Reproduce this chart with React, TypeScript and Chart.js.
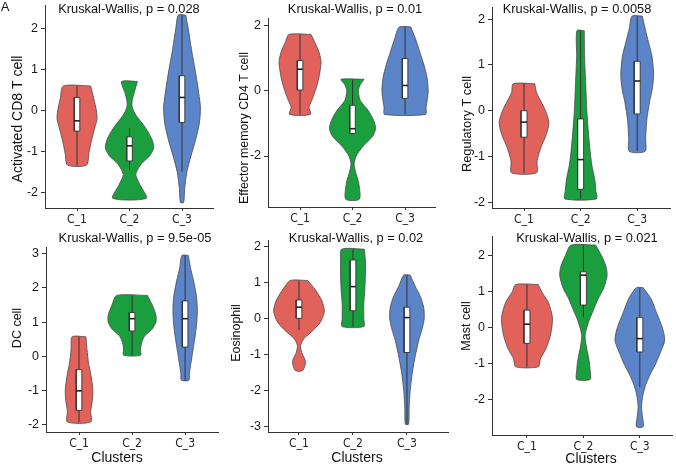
import React, { useEffect, useRef } from "react";
import { Chart, registerables } from "chart.js";

Chart.register(...registerables);

// ---------------- data ----------------
const categories = ["C_1", "C_2", "C_3"];
const clusterColors = ["#E0625A", "#1B9E3E", "#5B85C8"];
const xAxisTitle = "Clusters";

const panelTitles = [
  "Kruskal-Wallis, p = 0.028",
  "Kruskal-Wallis, p = 0.01",
  "Kruskal-Wallis, p = 0.0058",
  "Kruskal-Wallis, p = 9.5e-05",
  "Kruskal-Wallis, p = 0.02",
  "Kruskal-Wallis, p = 0.021",
];
const panelYLabels = [
  "Activated CD8 T cell",
  "Effector memory CD4 T cell",
  "Regulatory T cell",
  "DC cell",
  "Eosinophil",
  "Mast cell",
];
const panelYTicks = [
  [-2, -1, 0, 1, 2],
  [-2, 0, 2],
  [-2, -1, 0, 1, 2],
  [-2, -1, 0, 1, 2, 3],
  [-3, -2, -1, 0, 1, 2],
  [-2, -1, 0, 1, 2],
];

// violin profiles per cluster: [value, half width (category units)], top to bottom
const cd8Violins = [
  [[0.61, 0.26], [0.3, 0.32], [0.0, 0.37], [-0.2, 0.38], [-0.4, 0.34], [-0.7, 0.28], [-1.0, 0.23], [-1.32, 0.18]],
  [[0.72, 0.15], [0.45, 0.09], [0.25, 0.05], [0.1, 0.05], [-0.1, 0.12], [-0.4, 0.3], [-0.7, 0.43], [-0.9, 0.46], [-1.1, 0.38], [-1.3, 0.22], [-1.55, 0.12], [-1.8, 0.2], [-2.13, 0.32]],
  [[2.34, 0.07], [2.0, 0.12], [1.5, 0.18], [1.0, 0.25], [0.6, 0.3], [0.1, 0.35], [-0.3, 0.33], [-0.7, 0.26], [-1.1, 0.17], [-1.5, 0.09], [-1.9, 0.05], [-2.23, 0.03]],
];
const cd4Violins = [
  [[1.74, 0.21], [1.5, 0.28], [1.2, 0.36], [0.9, 0.4], [0.5, 0.37], [0.1, 0.31], [-0.3, 0.22], [-0.5, 0.17], [-0.72, 0.2]],
  [[0.36, 0.22], [0.2, 0.15], [0.0, 0.11], [-0.3, 0.15], [-0.6, 0.3], [-0.9, 0.4], [-1.15, 0.44], [-1.4, 0.38], [-1.7, 0.2], [-2.0, 0.07], [-2.25, 0.03], [-2.5, 0.06], [-2.85, 0.12], [-3.33, 0.13]],
  [[1.97, 0.11], [1.6, 0.2], [1.2, 0.28], [0.8, 0.36], [0.4, 0.42], [0.0, 0.44], [-0.3, 0.42], [-0.5, 0.4], [-0.72, 0.39]],
];
const tregViolins = [
  [[0.59, 0.19], [0.4, 0.22], [0.2, 0.3], [0.0, 0.38], [-0.25, 0.44], [-0.5, 0.4], [-0.8, 0.3], [-1.1, 0.23], [-1.36, 0.22]],
  [[1.75, 0.065], [1.2, 0.07], [0.6, 0.09], [0.0, 0.11], [-0.5, 0.14], [-0.9, 0.17], [-1.2, 0.2], [-1.5, 0.25], [-1.75, 0.27], [-1.93, 0.28]],
  [[2.07, 0.09], [1.8, 0.14], [1.5, 0.2], [1.2, 0.26], [0.8, 0.29], [0.5, 0.27], [0.2, 0.22], [-0.2, 0.17], [-0.6, 0.15], [-0.89, 0.14]],
];
const dcViolins = [
  [[0.57, 0.13], [0.2, 0.15], [-0.2, 0.18], [-0.6, 0.23], [-1.0, 0.26], [-1.3, 0.25], [-1.6, 0.22], [-1.92, 0.22]],
  [[1.78, 0.29], [1.5, 0.38], [1.2, 0.45], [1.0, 0.45], [0.8, 0.38], [0.6, 0.24], [0.4, 0.18], [0.2, 0.16], [0.03, 0.16]],
  [[2.95, 0.06], [2.6, 0.1], [2.2, 0.16], [1.8, 0.21], [1.4, 0.23], [1.0, 0.22], [0.6, 0.19], [0.2, 0.15], [-0.2, 0.11], [-0.5, 0.08], [-0.7, 0.07]],
];
const eosViolins = [
  [[1.05, 0.16], [0.8, 0.3], [0.5, 0.42], [0.2, 0.47], [-0.1, 0.4], [-0.35, 0.25], [-0.55, 0.1], [-0.75, 0.03], [-0.95, 0.05], [-1.2, 0.12], [-1.45, 0.07]],
  [[1.92, 0.21], [1.6, 0.23], [1.2, 0.23], [0.8, 0.22], [0.4, 0.2], [0.0, 0.2], [-0.23, 0.2]],
  [[1.2, 0.06], [0.9, 0.15], [0.6, 0.25], [0.3, 0.31], [0.0, 0.32], [-0.3, 0.28], [-0.6, 0.22], [-1.0, 0.16], [-1.5, 0.1], [-2.0, 0.06], [-2.5, 0.04], [-2.94, 0.03]],
];
const mastViolins = [
  [[1.2, 0.2], [1.0, 0.26], [0.7, 0.38], [0.3, 0.45], [0.0, 0.44], [-0.3, 0.4], [-0.6, 0.33], [-0.85, 0.24], [-1.08, 0.2]],
  [[2.29, 0.22], [2.0, 0.32], [1.7, 0.4], [1.45, 0.42], [1.1, 0.36], [0.8, 0.26], [0.5, 0.18], [0.2, 0.1], [-0.2, 0.03], [-0.5, 0.05], [-0.9, 0.1], [-1.2, 0.12], [-1.43, 0.12]],
  [[1.11, 0.06], [0.8, 0.2], [0.4, 0.3], [0.0, 0.4], [-0.35, 0.44], [-0.7, 0.36], [-1.0, 0.28], [-1.3, 0.18], [-1.6, 0.1], [-1.9, 0.05], [-2.2, 0.03], [-2.5, 0.05], [-2.74, 0.06]],
];

// box stats per cluster: [whisker low, q1, median, q3, whisker high]
const cd8Boxes = [[-1.32, -0.49, -0.24, 0.33, 0.61], [-1.44, -1.22, -0.85, -0.63, -0.42], [-1.48, -0.28, 0.33, 0.86, 2.34]];
const cd4Boxes = [[-0.72, 0.03, 0.67, 0.94, 1.74], [-1.33, -1.31, -1.16, -0.44, 0.36], [-0.72, -0.23, 0.17, 1.0, 1.97]];
const tregBoxes = [[-1.36, -0.58, -0.25, 0.0, 0.59], [-1.93, -1.72, -1.07, -0.18, 1.75], [-0.89, -0.07, 0.65, 1.08, 2.07]];
const dcBoxes = [[-1.92, -1.58, -1.01, -0.39, 0.57], [0.03, 0.74, 1.1, 1.28, 1.78], [-0.7, 0.27, 1.1, 1.62, 2.95]];
const eosBoxes = [[-0.33, 0.0, 0.31, 0.51, 1.05], [-0.23, 0.21, 0.88, 1.62, 1.92], [-2.94, -0.95, 0.02, 0.31, 1.2]];
const mastBoxes = [[-1.08, -0.43, 0.1, 0.49, 1.2], [0.3, 0.63, 1.46, 1.55, 2.29], [-1.64, -0.67, -0.3, 0.29, 1.11]];

const panelViolins = [cd8Violins, cd4Violins, tregViolins, dcViolins, eosViolins, mastViolins];
const panelBoxes = [cd8Boxes, cd4Boxes, tregBoxes, dcBoxes, eosBoxes, mastBoxes];

// ---------------- layout (positions / styles) ----------------
const FONT = "'Liberation Sans', Arial, sans-serif";
const NARROW = "'Liberation Sans Narrow', 'DejaVu Sans Condensed', 'Liberation Sans', sans-serif";
const BOX_HALF = 0.053;

type Layout = {
  left: number; top: number; w: number; h: number;
  area: { l: number; t: number; r: number; b: number };
  yMin: number; yMax: number; xMin: number; xMax: number;
  titleX: number; titleY: number;
  yLabX: number; yLabY: number; yLabSize: number;
  clusters?: { x: number; y: number };
  letter?: boolean;
};

const layouts: Layout[] = [
  { left: 0, top: 0, w: 225, h: 230, area: { l: 45, t: 5, r: 213, b: 208 }, yMin: -2.366, yMax: 2.585, xMin: 0.39, xMax: 3.59, titleX: 129, titleY: 9, yLabX: 18, yLabY: 119, yLabSize: 14, letter: true },
  { left: 225, top: 0, w: 225, h: 230, area: { l: 43, t: 18, r: 210, b: 207 }, yMin: -3.569, yMax: 2.246, xMin: 0.39, xMax: 3.57, titleX: 130, titleY: 9, yLabX: 20, yLabY: 128, yLabSize: 12.4 },
  { left: 450, top: 0, w: 226, h: 230, area: { l: 42, t: 7, r: 220, b: 208 }, yMin: -2.129, yMax: 2.269, xMin: 0.434, xMax: 3.58, titleX: 127, titleY: 9, yLabX: 17, yLabY: 124, yLabSize: 12.8 },
  { left: 0, top: 230, w: 225, h: 235, area: { l: 46, t: 17, r: 218, b: 202 }, yMin: -2.213, yMax: 3.196, xMin: 0.377, xMax: 3.62, titleX: 135, titleY: 8, yLabX: 18, yLabY: 98, yLabSize: 12.5, clusters: { x: 117, y: 228 } },
  { left: 225, top: 230, w: 225, h: 235, area: { l: 43, t: 10, r: 223, b: 202 }, yMin: -3.158, yMax: 2.175, xMin: 0.426, xMax: 3.76, titleX: 131, titleY: 8, yLabX: 12, yLabY: 103, yLabSize: 12.5, clusters: { x: 132, y: 228 } },
  { left: 450, top: 230, w: 226, h: 235, area: { l: 42, t: 6, r: 222, b: 205 }, yMin: -2.97, yMax: 2.543, xMin: 0.38, xMax: 3.57, titleX: 137, titleY: 8, yLabX: 17, yLabY: 96, yLabSize: 12.5, clusters: { x: 141, y: 229 } },
];

function Panel({ idx }: { idx: number }) {
  const ref = useRef<HTMLCanvasElement>(null);
  const L = layouts[idx];

  useEffect(() => {
    const canvas = ref.current!;
    const violins = panelViolins[idx];
    const boxes = panelBoxes[idx];
    const datasets: any[] = [];
    violins.forEach((prof, i) => {
      const c = i + 1;
      const right = prof.map(([v, w]) => ({ x: c + w, y: v }));
      const left = prof.slice().reverse().map(([v, w]) => ({ x: c - w, y: v }));
      datasets.push({
        data: [...right, ...left, right[0]],
        fill: "shape",
        backgroundColor: clusterColors[i],
        borderColor: "#4a4a4a",
        borderWidth: 0.8,
        tension: 0.25,
        pointRadius: 0,
        order: 4,
      });
      const [lo, q1, med, q3, hi] = boxes[i];
      datasets.push({
        data: [{ x: c, y: lo }, { x: c, y: hi }],
        fill: false,
        borderColor: "#333",
        borderWidth: 1,
        pointRadius: 0,
        order: 3,
      });
      datasets.push({
        data: [
          { x: c - BOX_HALF, y: q1 }, { x: c + BOX_HALF, y: q1 },
          { x: c + BOX_HALF, y: q3 }, { x: c - BOX_HALF, y: q3 },
          { x: c - BOX_HALF, y: q1 },
        ],
        fill: "shape",
        backgroundColor: "#ffffff",
        borderColor: "#333",
        borderWidth: 0.9,
        tension: 0,
        pointRadius: 0,
        order: 2,
      });
      datasets.push({
        data: [{ x: c - BOX_HALF, y: med }, { x: c + BOX_HALF, y: med }],
        fill: false,
        borderColor: "#222",
        borderWidth: 1.6,
        pointRadius: 0,
        order: 1,
      });
    });

    const texts: any[] = [
      { text: panelTitles[idx], x: L.titleX, y: L.titleY, size: 12.8, align: "center" },
      { text: panelYLabels[idx], x: L.yLabX, y: L.yLabY, size: L.yLabSize, align: "center", rotate: -Math.PI / 2 },
    ];
    if (L.clusters) texts.push({ text: xAxisTitle, x: L.clusters.x, y: L.clusters.y, size: 14, align: "center" });
    if (L.letter) texts.push({ text: "A", x: 1, y: 8, size: 12.5, align: "left" });

    const textPlugin = {
      id: "panelText" + idx,
      afterDraw(chart: any) {
        const ctx = chart.ctx;
        for (const t of texts) {
          ctx.save();
          ctx.font = `${t.size}px ${FONT}`;
          ctx.fillStyle = "#111";
          ctx.textAlign = t.align;
          ctx.textBaseline = "middle";
          ctx.translate(t.x, t.y);
          if (t.rotate) ctx.rotate(t.rotate);
          ctx.fillText(t.text, 0, 0);
          ctx.restore();
        }
      },
    };

    const chart = new Chart(canvas, {
      type: "line",
      data: { datasets },
      plugins: [textPlugin],
      options: {
        responsive: false,
        animation: false,
        devicePixelRatio: 1,
        events: [],
        layout: { padding: { left: 0, top: L.area.t, right: L.w - L.area.r, bottom: 0 } },
        plugins: { legend: { display: false }, tooltip: { enabled: false }, title: { display: false } },
        scales: {
          x: {
            type: "linear",
            min: L.xMin,
            max: L.xMax,
            afterBuildTicks: (s: any) => { s.ticks = categories.map((_, i) => ({ value: i + 1 })); },
            afterFit: (s: any) => { s.height = L.h - L.area.b; s.paddingLeft = 0; s.paddingRight = 0; },
            ticks: {
              autoSkip: false,
              maxRotation: 0,
              padding: 2,
              color: "#222",
              font: { family: NARROW, size: 12 },
              callback: (v: any) => categories[Math.round(Number(v)) - 1] ?? "",
            },
            grid: { display: true, drawOnChartArea: false, drawTicks: true, tickLength: 3, color: "#333", lineWidth: 1 },
            border: { display: true, color: "#333", width: 1 },
          },
          y: {
            type: "linear",
            min: L.yMin,
            max: L.yMax,
            afterBuildTicks: (s: any) => { s.ticks = panelYTicks[idx].map((v) => ({ value: v })); },
            afterFit: (s: any) => { s.width = L.area.l; s.paddingTop = 0; s.paddingBottom = 0; },
            ticks: {
              autoSkip: false,
              padding: 3,
              color: "#1a1a1a",
              font: { family: FONT, size: 12.5 },
              callback: (v: any) => String(v),
            },
            grid: { display: true, drawOnChartArea: false, drawTicks: true, tickLength: 4, color: "#333", lineWidth: 1 },
            border: { display: true, color: "#333", width: 1 },
          },
        },
      } as any,
    });
    return () => chart.destroy();
  }, [idx]);

  return (
    <canvas
      ref={ref}
      width={L.w}
      height={L.h}
      style={{ position: "absolute", left: L.left, top: L.top, width: L.w, height: L.h }}
    />
  );
}

export default function App() {
  return (
    <div style={{ position: "absolute", left: 0, top: 0, width: 676, height: 465, background: "#fff", overflow: "hidden" }}>
      {layouts.map((_, i) => (
        <Panel key={i} idx={i} />
      ))}
    </div>
  );
}
